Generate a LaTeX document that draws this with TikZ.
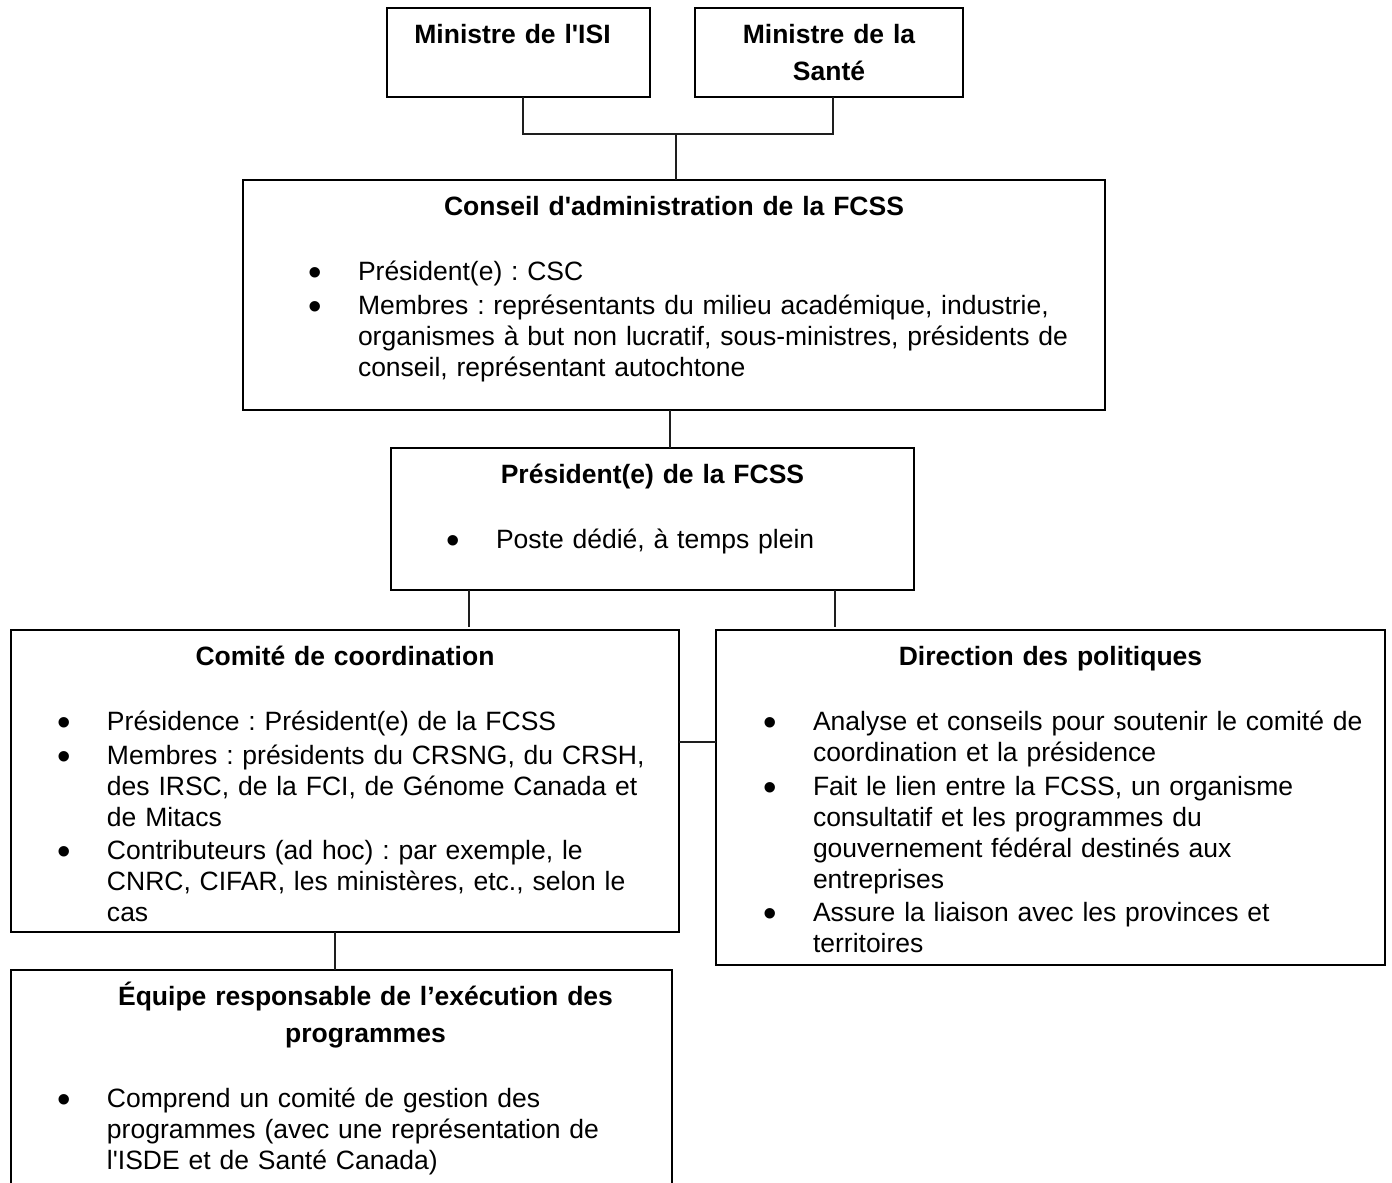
\documentclass[tikz,border=0pt]{standalone}
\usepackage{fontspec}
\setmainfont{Liberation Sans}[Ligatures=TeXOff]
\usepackage{tikz}
\usetikzlibrary{positioning, calc}
\frenchspacing
\newlength{\px}
\setlength{\px}{0.4528pt}
\definecolor{boxLine}{RGB}{0, 0, 0}
\definecolor{linkLine}{RGB}{30, 30, 30}
\definecolor{textColor}{RGB}{0, 0, 0}
% centred bold heading, #1 = shift of the centre (px)
\newcommand{\titre}[2][0]{{\bfseries
    \setlength{\leftskip}{#1\px plus 1fil}\setlength{\rightskip}{0pt plus 1fil}%
    \setlength{\parfillskip}{0pt}\setlength{\parindent}{0pt}%
    \setlength{\baselineskip}{36.5\px}#2\par}}
% bullet list, #1 = text indent from the box edge (px)
\newcommand{\liste}[1]{\par
    \setlength{\leftskip}{#1\px}\setlength{\rightskip}{0pt plus 1fil}%
    \setlength{\parfillskip}{0pt plus 1fil}\setlength{\baselineskip}{31\px}%
    \setlength{\parskip}{2.5\px}\vspace{31.5\px}}
\newcommand{\puce}{\par\noindent\llap{\raisebox{-5\px}[0pt][0pt]{\scalebox{1.45}{\textbullet}}\hspace{36\px}}}
\tikzset{
    org_box/.style={
        draw=boxLine,
        line width=0.9pt,
        text=textColor,
        inner sep=0pt,
        outer sep=0pt,
        anchor=north west,
        text height=35.5\px,
        font=\fontsize{12}{14.04}\selectfont
    },
    org_link/.style={
        draw=linkLine,
        line width=0.6pt
    }
}

\begin{document}
\begin{tikzpicture}[x=\px, y=-\px]
    \useasboundingbox (0,0) rectangle (1392,1182);
    \clip (0,0) rectangle (1392,1182);

    \node[org_box, text width=263\px, text depth=53.5\px] (isi) at (387,8)
        {\titre[-12]{Ministre de l'ISI}};
    \node[org_box, text width=268\px, text depth=53.5\px, right=45\px of isi.north east, anchor=north west] (sante)
        {\titre{Ministre de la\par Santé}};

    \node[org_box, text width=862\px, text depth=194.5\px] (conseil) at (243,180)
        {\titre{Conseil d'administration de la FCSS}
         \liste{115}
         \puce Président(e) : CSC
         \puce Membres : représentants du milieu académique, industrie,\newline
            organismes à but non lucratif, sous-ministres, présidents de\newline
            conseil, représentant autochtone\par};

    \node[org_box, text width=523\px, text depth=106.5\px] (president) at (391,448)
        {\titre{Président(e) de la FCSS}
         \liste{105}
         \puce Poste dédié, à temps plein\par};

    \node[org_box, text width=668\px, text depth=266.5\px] (comite) at (11,630)
        {\titre{Comité de coordination}
         \liste{96}
         \puce Présidence : Président(e) de la FCSS
         \puce Membres : présidents du CRSNG, du CRSH,\newline
            des IRSC, de la FCI, de Génome Canada et\newline
            de Mitacs
         \puce Contributeurs (ad hoc) : par exemple, le\newline
            CNRC, CIFAR, les ministères, etc., selon le\newline
            cas\par};

    \node[org_box, text width=669\px, text depth=299.5\px] (direction) at (716,630)
        {\titre{Direction des politiques}
         \liste{97}
         \puce Analyse et conseils pour soutenir le comité de\newline
            coordination et la présidence
         \puce Fait le lien entre la FCSS, un organisme\newline
            consultatif et les programmes du\newline
            gouvernement fédéral destinés aux\newline
            entreprises
         \puce Assure la liaison avec les provinces et\newline
            territoires\par};

    \node[org_box, text width=661\px, text depth=204.5\px, below=38\px of comite.south west, anchor=north west] (equipe)
        {\titre[48]{Équipe responsable de l’exécution des\par programmes}
         \liste{96}
         \puce Comprend un comité de gestion des\newline
            programmes (avec une représentation de\newline
            l'ISDE et de Santé Canada)\par};

    % ministers -> board
    \coordinate (jonction) at (676,134);
    \draw[org_link] ([xshift=4.5\px]isi.south) |- (jonction);
    \draw[org_link] ([xshift=4\px]sante.south) |- (jonction);
    \draw[org_link] (jonction) -- (jonction |- conseil.north);
    \draw[org_link] ([xshift=-4\px]conseil.south) -- ([xshift=-4\px]conseil.south |- president.north);

    % president -> committee / policy branch
    \draw[org_link, shorten >=3\px] ([xshift=78\px]president.south west) -- ([xshift=78\px]president.south west |- comite.north);
    \draw[org_link, shorten >=3\px] ([xshift=-79\px]president.south east) -- ([xshift=-79\px]president.south east |- direction.north);
    \draw[org_link] ([yshift=-112\px]comite.north east) -- ([yshift=-112\px]direction.north west);
    \draw[org_link] ([xshift=-10\px]comite.south) -- ([xshift=-10\px]comite.south |- equipe.north);
\end{tikzpicture}
\end{document}
